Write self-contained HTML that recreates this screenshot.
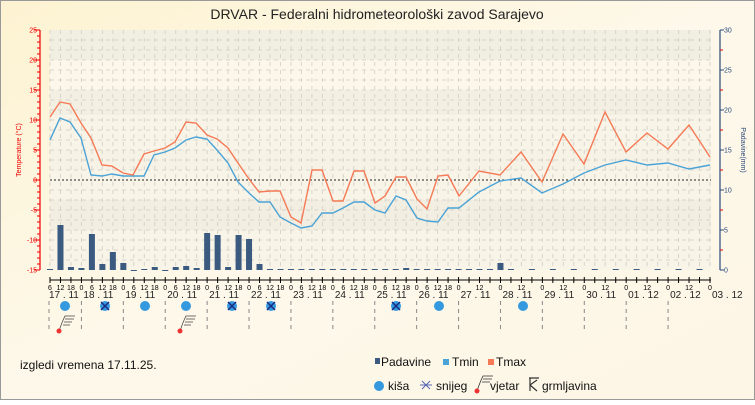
<!DOCTYPE html>
<html><head><meta charset="utf-8"><style>
body{margin:0;width:755px;height:400px;overflow:hidden;font-family:"Liberation Sans",sans-serif}
</style></head><body>
<svg width="755" height="400" xmlns="http://www.w3.org/2000/svg" font-family="Liberation Sans, DejaVu Sans, sans-serif">
<defs>
<linearGradient id="bg" x1="0" y1="0" x2="1" y2="1"><stop offset="0" stop-color="#fdf3d2"/><stop offset="0.5" stop-color="#fdf8ea"/><stop offset="1" stop-color="#fdf6e6"/></linearGradient>
</defs>
<rect x="0.5" y="0.5" width="754" height="399" fill="url(#bg)" stroke="#999"/>
<text x="377" y="19" font-size="14" text-anchor="middle" fill="#222">DRVAR - Federalni hidrometeorološki zavod Sarajevo</text>
<rect x="50" y="30" width="661" height="240" fill="#f8f4e8"/>
<rect x="50" y="30" width="661" height="30" fill="#f1eee2"/>
<rect x="50" y="90" width="661" height="25" fill="#f3efe3"/>
<rect x="50" y="150" width="661" height="20" fill="#f6f2e6"/>
<rect x="50" y="200" width="661" height="30" fill="#f2eee2"/>
<rect x="50" y="60" width="661" height="30" fill="#fcf7ea"/>
<g stroke="#d8d4cb" stroke-width="1" stroke-dasharray="4,4" id="grid"></g>
<line x1="50" y1="180" x2="711" y2="180" stroke="#222" stroke-dasharray="2,2"/>
<line x1="40" y1="30" x2="40" y2="270" stroke="#e00" stroke-width="1.2"/>
<g id="laxis" font-size="7" fill="#e00" text-anchor="end"></g>
<text transform="translate(21,150) rotate(-90)" font-size="7" fill="#e00" text-anchor="middle">Temperature (°C)</text>
<line x1="720" y1="30" x2="720" y2="270" stroke="#2b4a7a" stroke-width="1.2"/>
<g id="raxis" font-size="7" fill="#2b4a7a"></g>
<text transform="translate(741,150) rotate(90)" font-size="7" fill="#2b4a7a" text-anchor="middle">Padavine(mm)</text>
<g id="bars" fill="#3a5a80"></g>
<polyline id="tmin" fill="none" stroke="#4aa3d6" stroke-width="1.4"/>
<polyline id="tmax" fill="none" stroke="#f57a55" stroke-width="1.4"/>
<line x1="50" y1="280" x2="711" y2="280" stroke="#000"/>
<g id="xt" font-size="7" fill="#000" text-anchor="middle"></g>
<g id="dl" font-size="10" fill="#222"></g>
<g id="sep" stroke="#888" stroke-dasharray="4,4"></g>
<g id="icons"></g>
<text x="20" y="369" font-size="12" fill="#111">izgledi vremena 17.11.25.</text>
<rect x="375" y="358" width="5" height="6" fill="#3a5a80"/><text x="381" y="366" font-size="12" fill="#111">Padavine</text>
<rect x="443" y="359" width="6" height="6" fill="#4aa3d6"/><text x="452" y="366" font-size="12" fill="#111">Tmin</text>
<rect x="488" y="359" width="6" height="6" fill="#f57a55"/><text x="496" y="366" font-size="12" fill="#111">Tmax</text>
<circle cx="379" cy="386" r="5" fill="#3499de"/><text x="388" y="390" font-size="12" fill="#111">kiša</text>
<path d="M422 381l8 8M430 381l-8 8M420 385h12" stroke="#5565b5" stroke-width="1"/><text x="436" y="390" font-size="12" fill="#111">snijeg</text>
<g stroke="#333" fill="none" stroke-width="0.8"><path d="M477 391 C479 385 481 380 483 376 L493 376 M483 379 L492 379 M482 382 L490 382"/></g><circle cx="477" cy="391" r="2.5" fill="#e33"/>
<text x="490" y="390" font-size="12" fill="#111">vjetar</text>
<path d="M529 378h10M530 378v13M530 385l7 -5M530 385l7 6" stroke="#333" fill="none" stroke-width="1.2"/>
<text x="542" y="390" font-size="12" fill="#111">grmljavina</text>
</svg>
<script>
const ns="http://www.w3.org/2000/svg";
function el(p,t,a,txt){const e=document.createElementNS(ns,t);for(const k in a)e.setAttribute(k,a[k]);if(txt!==undefined)e.textContent=txt;document.getElementById(p).appendChild(e);return e;}
const X=i=>50+i*10.476;
for(let i=0;i<=63;i++){el("grid","line",{x1:X(i),y1:30,x2:X(i),y2:270});}
for(let y=40;y<270;y+=10){if(y!==180)el("grid","line",{x1:50,y1:y,x2:711,y2:y});}
for(let t=-15;t<=25;t+=5){const y=180-6*t;el("laxis","text",{x:37,y:y+2.5},t);el("laxis","line",{x1:34,y1:y,x2:40,y2:y,stroke:"#e00"});}
for(let t=-15;t<25;t+=1){const y=180-6*t;el("laxis","line",{x1:37,y1:y,x2:40,y2:y,stroke:"#e00"});}
for(let m=0;m<=30;m+=5){const y=270-8*m;el("raxis","text",{x:724,y:y+2.5},m);el("raxis","line",{x1:720,y1:y,x2:724,y2:y,stroke:"#2b4a7a"});if(m>0)el("raxis","line",{x1:720,y1:y+20,x2:723,y2:y+20,stroke:"#e00"});}
const mx=[[50,117],[60,102],[70,104],[81,123],[91,138],[102,165],[112,166],[123,173],[133,175],[144,154],[154,151],[165,148],[175,142],[186,122],[196,123],[207,135],[217,139],[228,148],[238,163],[249,179],[259,192],[270,191],[280,191],[291,217],[301,223],[312,170],[322,170],[333,201],[343,201],[354,171],[364,171],[375,203],[385,196],[396,177],[406,177],[417,199],[427,209],[438,176],[448,175],[459,196],[479,171],[500,175],[521,152],[542,182],[563,134],[584,164],[605,112],[626,152],[647,133],[668,149],[689,125],[710,157]];
const mn=[[50,140],[60,118],[70,122],[81,138],[91,175],[102,176],[112,174],[123,176],[133,176],[144,176],[154,155],[165,152],[175,148],[186,140],[196,137],[207,139],[217,150],[228,163],[238,182],[249,193],[259,202],[270,202],[280,217],[291,223],[301,228],[312,226],[322,213],[333,213],[343,208],[354,202],[364,202],[375,210],[385,213],[396,196],[406,200],[417,218],[427,221],[438,222],[448,208],[459,208],[479,192],[500,181],[521,178],[542,193],[563,184],[584,173],[605,165],[626,160],[647,165],[668,163],[689,169],[710,165]];
document.getElementById("tmax").setAttribute("points",mx.map(p=>p.join(",")).join(" "));
document.getElementById("tmin").setAttribute("points",mn.map(p=>p.join(",")).join(" "));
const bars={0:269,1:225,2:267,3:268,4:234,5:264,6:252,7:263,8:270,9:269,10:267,11:270,12:267,13:266,14:268,15:233,16:235,17:267,18:235,19:239,20:264,21:269,22:269,34:268,35:269,43:263};
for(let i=0;i<=63;i++){let y=bars[i]!==undefined?bars[i]:269;if(i>=44&&i%2==1)continue;el("bars","rect",{x:X(i)-3,y:y,width:6,height:Math.max(270-y,1)});}
for(let i=0;i<=63;i++){el("xt","line",{x1:X(i),y1:277,x2:X(i),y2:283,stroke:"#000"});const h=(6+i*6)%24;if(i<=39||h%12==0)el("xt","text",{x:X(i),y:290},h);}
const days=["17 . 11","18 . 11","19 . 11","20 . 11","21 . 11","22 . 11","23 . 11","24 . 11","25 . 11","26 . 11","27 . 11","28 . 11","29 . 11","30 . 11","01 . 12","02 . 12","03 . 12"];
days.forEach((d,k)=>{const x0=k==0?49:X(k*4-1);el("dl","text",{x:x0+(k==0?0:2),y:298},d);if(k<16)el("sep","line",{x1:x0,y1:301,x2:x0,y2:332});});
const rain=[65,145,186,439,523];rain.forEach(x=>el("icons","circle",{cx:x,cy:306,r:5,fill:"#3499de"}));
[105,232,271,396].forEach(x=>{el("icons","circle",{cx:x,cy:306,r:5,fill:"#3499de"});el("icons","path",{d:`M${x-4} ${302}l8 8M${x+4} 302l-8 8`,stroke:"#1a2a80","stroke-width":1.5});});
[59,180].forEach(x=>{el("icons","path",{d:`M${x} 331 C${x+2} 325 ${x+4} 320 ${x+6} 316 L${x+16} 316 M${x+6} 319 L${x+15} 319 M${x+5} 322 L${x+13} 322 M${x+4} 325 L${x+11} 325`,stroke:"#444",fill:"none","stroke-width":0.8});el("icons","circle",{cx:x,cy:331,r:2.5,fill:"#e33"});});
</script>
</body></html>
